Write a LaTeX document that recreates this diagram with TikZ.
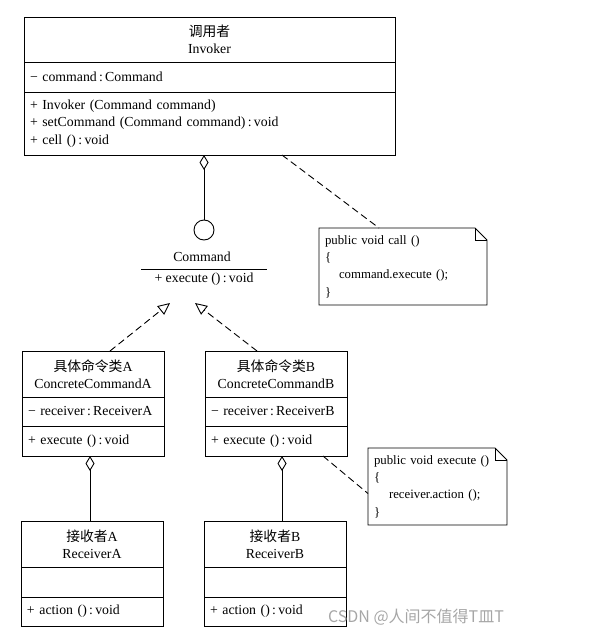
\documentclass[tikz,border=0pt]{standalone}
\usepackage{fontspec}
\setmainfont{Liberation Serif}
\newfontfamily\cjk{Noto Sans CJK SC}
\usetikzlibrary{arrows.meta,calc}

\tikzset{
  umlpart/.style={draw, anchor=north west, outer sep=0pt, inner xsep=6pt, inner ysep=0pt, text width=130pt, line width=0.9pt},
  umlhead/.style={umlpart, align=center},
  umlbody/.style={umlpart, align=left},
  notebox/.style={anchor=north west, outer sep=0pt, inner xsep=6pt, inner ysep=0pt, align=left, font=\fontsize{12.8}{17.3}\selectfont},
  notefold/.style={line width=0.9pt},
  aggr/.style={{Diamond[open,length=15pt,width=9pt]}-, line width=0.9pt},
  real/.style={dash pattern=on 7pt off 4pt, -{Triangle[open,length=12pt,width=11pt]}, line width=0.9pt},
  link/.style={dash pattern=on 7pt off 4pt, line width=0.9pt},
}

\begin{document}
\begin{tikzpicture}[x=1pt, y=-1pt, every node/.style={font=\fontsize{13.8}{17.3}\selectfont}]
            \useasboundingbox (0,0) rectangle (589,637);
            % invoker
            \node[umlhead, text width=359pt, minimum height=45pt] (invName) at (24,17) {{\cjk 调用者}\\Invoker};
            \node[umlbody, text width=359pt, minimum height=30pt] (invAttr) at (invName.south west) {− command\,:\,Command};
            \node[umlbody, text width=359pt, minimum height=63pt] (invOps) at (invAttr.south west) {+ Invoker (Command command)\\+ setCommand (Command command)\,:\,void\\+ cell ()\,:\,void};
            % command interface
            \node[circle, draw, line width=0.9pt, minimum size=20pt, inner sep=0pt] (iface) at (204,230) {};
            \node (cmdName) at (202,257) {Command};
            \node[minimum width=125pt, minimum height=19pt, inner sep=0pt, anchor=north] (cmdOps) at (204,269) {+ execute ()\,:\,void};
            \draw[line width=0.9pt] (cmdOps.north west) -- (cmdOps.north east);
            \draw[aggr] (iface |- invOps.south) -- (iface.north);
            % note on call
            \node[notebox, text width=156pt, minimum height=77pt] (noteCall) at (319,228) {public void call ()\\\{\\\hspace*{14pt}command.execute ();\\\}};
            \draw[notefold] (noteCall.north west) -- ($(noteCall.north east)+(-12,0)$) -- ($(noteCall.north east)+(0,12)$) -- (noteCall.south east) -- (noteCall.south west) -- cycle;
            \draw[notefold] ($(noteCall.north east)+(-12,0)$) |- ($(noteCall.north east)+(0,12)$);
            \draw[link] ($(invOps.south east)+(-113,0)$) -- ($(noteCall.north west)+(60,0)$);
            % concrete commands
            \node[umlhead, minimum height=46pt] (ccaName) at (22,351) {{\cjk 具体命令类}A\\ConcreteCommandA};
            \node[umlbody, minimum height=29pt] (ccaAttr) at (ccaName.south west) {− receiver\,:\,ReceiverA};
            \node[umlbody, minimum height=30pt] (ccaOps) at (ccaAttr.south west) {+ execute ()\,:\,void};
            \node[umlhead, minimum height=46pt] (ccbName) at (205,351) {{\cjk 具体命令类}B\\ConcreteCommandB};
            \node[umlbody, minimum height=29pt] (ccbAttr) at (ccbName.south west) {− receiver\,:\,ReceiverB};
            \node[umlbody, minimum height=30pt] (ccbOps) at (ccbAttr.south west) {+ execute ()\,:\,void};
            \coordinate (tipA) at (170,303);
            \coordinate (tipB) at (195,303);
            \draw[real] ($(ccaName.north)+(17,0)$) -- (tipA);
            \draw[real] ($(ccbName.north)+(-19,0)$) -- (tipB);
            % receivers
            \node[umlhead, minimum height=46pt] (recvAName) at (21,521) {{\cjk 接收者}A\\ReceiverA};
            \node[umlbody, minimum height=30pt] (recvAAttr) at (recvAName.south west) {};
            \node[umlbody, minimum height=29pt] (recvAOps) at (recvAAttr.south west) {+ action ()\,:\,void};
            \node[umlhead, minimum height=46pt] (recvBName) at (204,521) {{\cjk 接收者}B\\ReceiverB};
            \node[umlbody, minimum height=30pt] (recvBAttr) at (recvBName.south west) {};
            \node[umlbody, minimum height=29pt] (recvBOps) at (recvBAttr.south west) {+ action ()\,:\,void};
            \coordinate (aggA) at ($(ccaOps.south)+(-3,0)$);
            \coordinate (aggB) at ($(ccbOps.south)+(6,0)$);
            \draw[aggr] (aggA) -- (aggA |- recvAName.north);
            \draw[aggr] (aggB) -- (aggB |- recvBName.north);
            % note on execute
            \node[notebox, text width=127pt, minimum height=77pt] (noteExec) at (368,448) {public void execute ()\\\{\\\hspace*{15pt}receiver.action ();\\\}};
            \draw[notefold] (noteExec.north west) -- ($(noteExec.north east)+(-12,0)$) -- ($(noteExec.north east)+(0,12)$) -- (noteExec.south east) -- (noteExec.south west) -- cycle;
            \draw[notefold] ($(noteExec.north east)+(-12,0)$) |- ($(noteExec.north east)+(0,12)$);
            \draw[link] ($(ccbOps.south east)+(-24,0)$) -- ($(noteExec.west)+(0,7)$);
            % watermark
            \node[text=gray!70, font=\cjk\fontsize{16}{16}\selectfont] (mark) at (416,617) {CSDN @人间不值得T皿T};
        \end{tikzpicture}
\end{document}
